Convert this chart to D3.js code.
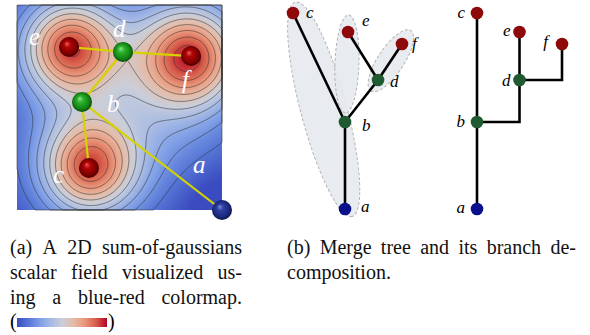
<!DOCTYPE html>
<html>
<head>
<meta charset="utf-8">
<script src="https://cdn.jsdelivr.net/npm/d3@7"></script>
<style>
  html, body { margin: 0; padding: 0; background: #fff; }
  svg { display: block; }
  text { font-family: "Liberation Serif", "Times New Roman", serif; }
</style>
</head>
<body>
<svg id="fig" width="590" height="335"></svg>
<script>
// critical points of the field
const nodeNames = ['a', 'b', 'c', 'd', 'e', 'f'];
const nodeKinds = ['min', 'saddle', 'max', 'saddle', 'max', 'max'];
// where they sit in the 2D domain (0..1)
const fieldU = [1.0, 0.317, 0.351, 0.517, 0.254, 0.849];
const fieldV = [1.0, 0.473, 0.795, 0.229, 0.205, 0.249];
// scalar value (tree height)
const nodeValue = [0, 0.444, 1.0, 0.658, 0.903, 0.842];
// horizontal slot in the merge tree / branch decomposition
const mergeCol = [1.0, 1.0, 0, 1.635, 1.058, 2.096];
const branchCol = [0, 0, 0, 1, 1, 2];
const arcs = [['b', 'a'], ['c', 'b'], ['d', 'b'], ['e', 'd'], ['f', 'd']];
const branches = [['c', 'a'], ['e', 'b'], ['f', 'd']];

// sum of gaussians
const gaussU = [0.254, 0.849, 0.351, 0.55, 1.0];
const gaussV = [0.205, 0.249, 0.795, 0.45, 1.0];
const gaussAmp = [0.6, 0.62, 0.6, 0.25, -0.1];
const gaussSigma = [0.16, 0.17, 0.16, 0.35, 0.15];
const fieldBase = 0.05;
const colourRange = [0.05, 0.85];
const contourLevels = d3.range(0.15, 0.9, 0.07);

const cmapStops = ['#3b4cc0', '#5676d6', '#7d9de6', '#a6bae4', '#c9ceda', '#e5bca8', '#e9977c', '#d75e4a', '#b40426'];

const captionA = ['(a) A 2D sum-of-gaussians', 'scalar field visualized us-', 'ing a blue-red colormap.'];
const captionB = ['(b) Merge tree and its branch de-', 'composition.'];

const svg = d3.select('#fig');
const defs = svg.append('defs');
const cmap = d3.piecewise(d3.interpolateRgb, cmapStops);
const norm = d3.scaleLinear().domain(colourRange).range([0, 1]).clamp(true);
const idx = Object.fromEntries(nodeNames.map((n, i) => [n, i]));

// ---------- panel (a): scalar field ----------
const sq = {x: 17, y: 5, size: 205};
const fx = d3.scaleLinear().domain([0, 1]).range([sq.x, sq.x + sq.size]);
const fy = d3.scaleLinear().domain([0, 1]).range([sq.y, sq.y + sq.size]);

function field(u, v) {
  let s = fieldBase;
  for (let k = 0; k < gaussU.length; k++) {
    const du = u - gaussU[k], dv = v - gaussV[k];
    s += gaussAmp[k] * Math.exp(-(du * du + dv * dv) / (2 * gaussSigma[k] * gaussSigma[k]));
  }
  return s;
}

const N = 205;
const values = new Float64Array(N * N);
for (let j = 0; j < N; j++)
  for (let i = 0; i < N; i++)
    values[j * N + i] = field((i + 0.5) / N, (j + 0.5) / N);

const canvas = document.createElement('canvas');
canvas.width = N; canvas.height = N;
const ctx = canvas.getContext('2d');
const img = ctx.createImageData(N, N);
for (let p = 0; p < N * N; p++) {
  const c = d3.rgb(cmap(norm(values[p])));
  img.data[p * 4] = c.r; img.data[p * 4 + 1] = c.g; img.data[p * 4 + 2] = c.b; img.data[p * 4 + 3] = 255;
}
ctx.putImageData(img, 0, 0);

const panelA = svg.append('g').attr('class', 'panel-a');
panelA.append('image')
  .attr('x', sq.x).attr('y', sq.y)
  .attr('width', sq.size).attr('height', sq.size)
  .attr('preserveAspectRatio', 'none')
  .attr('href', canvas.toDataURL());

const contours = d3.contours().size([N, N]).thresholds(contourLevels)(values);
panelA.append('g')
  .attr('transform', `translate(${sq.x},${sq.y})`)
  .selectAll('path')
  .data(contours)
  .enter()
  .append('path')
  .attr('d', d3.geoPath(d3.geoIdentity().scale(sq.size / N)))
  .attr('fill', 'none')
  .attr('stroke', '#2a2a2a')
  .attr('stroke-opacity', 0.65)
  .attr('stroke-width', 0.85);

// yellow arcs
panelA.selectAll('.arc-a')
  .data(arcs)
  .enter()
  .append('line')
  .attr('class', 'arc-a')
  .attr('x1', d => fx(fieldU[idx[d[0]]]))
  .attr('y1', d => fy(fieldV[idx[d[0]]]))
  .attr('x2', d => fx(fieldU[idx[d[1]]]))
  .attr('y2', d => fy(fieldV[idx[d[1]]]))
  .attr('stroke', '#d6d200')
  .attr('stroke-width', 2.2);

// shaded balls
const ballStops = {
  max:    ['#e85a5a', '#b00404', '#7e0000', '#360000'],
  saddle: ['#8ae88a', '#2eb02e', '#128412', '#053a05'],
  min:    ['#7d8bd8', '#2f3ea0', '#1a2a7c', '#080e3a']
};
Object.keys(ballStops).forEach(k => {
  const g = defs.append('radialGradient').attr('id', 'ball-' + k)
    .attr('cx', '50%').attr('cy', '50%').attr('r', '55%')
    .attr('fx', '38%').attr('fy', '32%');
  [0, 0.3, 0.72, 1].forEach((o, i) => g.append('stop').attr('offset', o).attr('stop-color', ballStops[k][i]));
});

panelA.selectAll('.ball')
  .data(nodeNames)
  .enter()
  .append('circle')
  .attr('class', 'ball')
  .attr('cx', (d, i) => fx(fieldU[i]))
  .attr('cy', (d, i) => fy(fieldV[i]))
  .attr('r', 10)
  .attr('fill', (d, i) => `url(#ball-${nodeKinds[i]})`);

const labelA = {a: [-29, -37], b: [25, 10], c: [-36, 15], d: [-10, -15], e: [-40, -2], f: [-9, 32]};
panelA.selectAll('.lab-a')
  .data(nodeNames)
  .enter()
  .append('text')
  .attr('class', 'lab-a')
  .attr('x', (d, i) => fx(fieldU[i]) + labelA[d][0])
  .attr('y', (d, i) => fy(fieldV[i]) + labelA[d][1])
  .attr('fill', '#fff')
  .attr('font-size', 25)
  .attr('font-style', 'italic')
  .text(d => d);

// ---------- panel (b) ----------
const ty = d3.scaleLinear().domain([0, 1]).range([209, 13]);
const mx = d3.scaleLinear().domain([0, 1]).range([293, 345]);
const bx = d3.scaleLinear().domain([0, 1]).range([477, 519.5]);
const nodeFill = {max: '#8e0a0a', saddle: '#1f5a30', min: '#0a0f8c'};

// branch regions around the merge tree
const branchShape = {c: [10, 9, 23, 5], e: [17, -9, 12, 0], f: [16, 13, 13, 0]};
const merge = svg.append('g').attr('class', 'merge-tree');
merge.selectAll('ellipse')
  .data(branches)
  .enter()
  .append('ellipse')
  .each(function (d) {
    const s = idx[d[0]], t = idx[d[1]];
    const x0 = mx(mergeCol[s]), y0 = ty(nodeValue[s]);
    const x1 = mx(mergeCol[t]), y1 = ty(nodeValue[t]);
    const len = Math.hypot(x1 - x0, y1 - y0);
    const ux = (x1 - x0) / len, uy = (y1 - y0) / len;
    const [pS, pE, hw, sh] = branchShape[d[0]];
    const along = (len + pE - pS) / 2;
    const cx = x0 + ux * along + uy * sh, cy = y0 + uy * along - ux * sh;
    d3.select(this)
      .attr('cx', 0).attr('cy', 0)
      .attr('rx', (len + pS + pE) / 2).attr('ry', hw)
      .attr('transform', `translate(${cx},${cy}) rotate(${Math.atan2(uy, ux) * 180 / Math.PI})`);
  })
  .attr('fill', '#e5e9ed')
  .attr('fill-opacity', 0.9)
  .attr('stroke', '#b4b4b4')
  .attr('stroke-width', 1)
  .attr('stroke-dasharray', '3,2');

merge.selectAll('line')
  .data(arcs)
  .enter()
  .append('line')
  .attr('x1', d => mx(mergeCol[idx[d[0]]]))
  .attr('y1', d => ty(nodeValue[idx[d[0]]]))
  .attr('x2', d => mx(mergeCol[idx[d[1]]]))
  .attr('y2', d => ty(nodeValue[idx[d[1]]]))
  .attr('stroke', '#000')
  .attr('stroke-width', 2.6);

merge.selectAll('circle')
  .data(nodeNames)
  .enter()
  .append('circle')
  .attr('cx', (d, i) => mx(mergeCol[i]))
  .attr('cy', (d, i) => ty(nodeValue[i]))
  .attr('r', 6.3)
  .attr('fill', (d, i) => nodeFill[nodeKinds[i]]);

const labelM = {a: [16, 3], b: [17, 9], c: [13, 5], d: [12, 7], e: [14, -6], f: [10, 5]};
merge.selectAll('text')
  .data(nodeNames)
  .enter()
  .append('text')
  .attr('x', (d, i) => mx(mergeCol[i]) + labelM[d][0])
  .attr('y', (d, i) => ty(nodeValue[i]) + labelM[d][1])
  .attr('font-size', 17)
  .attr('font-style', 'italic')
  .text(d => d);

// branch decomposition
const bd = svg.append('g').attr('class', 'branch-decomp');
bd.selectAll('path')
  .data(arcs)
  .enter()
  .append('path')
  .attr('d', d => {
    const s = idx[d[0]], t = idx[d[1]];
    return `M${bx(branchCol[s])},${ty(nodeValue[s])}V${ty(nodeValue[t])}H${bx(branchCol[t])}`;
  })
  .attr('fill', 'none')
  .attr('stroke', '#000')
  .attr('stroke-width', 2.6);

bd.selectAll('circle')
  .data(nodeNames)
  .enter()
  .append('circle')
  .attr('cx', (d, i) => bx(branchCol[i]))
  .attr('cy', (d, i) => ty(nodeValue[i]))
  .attr('r', 6.3)
  .attr('fill', (d, i) => nodeFill[nodeKinds[i]]);

const labelB = {a: [-12, 4], b: [-12, 5], c: [-12, 5], d: [-9, 6], e: [-9, 4], f: [-14, 3]};
bd.selectAll('text')
  .data(nodeNames)
  .enter()
  .append('text')
  .attr('x', (d, i) => bx(branchCol[i]) + labelB[d][0])
  .attr('y', (d, i) => ty(nodeValue[i]) + labelB[d][1])
  .attr('text-anchor', 'end')
  .attr('font-size', 17)
  .attr('font-style', 'italic')
  .text(d => d);

// ---------- captions ----------
const capFont = 20;
function setLine(str, x0, x1, y, justify) {
  const words = str.split(' ');
  const g = svg.append('g');
  const nodes = words.map(w => g.append('text').attr('y', y).attr('font-size', capFont).attr('fill', '#111').text(w));
  const widths = nodes.map(n => n.node().getComputedTextLength());
  const total = d3.sum(widths);
  const gap = justify && words.length > 1 ? (x1 - x0 - total) / (words.length - 1) : capFont * 0.25;
  let x = x0;
  nodes.forEach((n, k) => { n.attr('x', x); x += widths[k] + gap; });
}
captionA.forEach((l, k) => setLine(l, 10, 242, 254 + k * 25, true));
captionB.forEach((l, k) => setLine(l, 287, 576, 254 + k * 25, k < captionB.length - 1));

// colour bar
const grad = defs.append('linearGradient').attr('id', 'cbar');
cmapStops.forEach((c, k) => grad.append('stop').attr('offset', k / (cmapStops.length - 1)).attr('stop-color', c));
svg.append('text').attr('x', 10).attr('y', 328).attr('font-size', capFont).text('(');
svg.append('rect').attr('x', 17).attr('y', 318).attr('width', 90).attr('height', 9).attr('fill', 'url(#cbar)');
svg.append('text').attr('x', 108).attr('y', 328).attr('font-size', capFont).text(')');
</script>
</body>
</html>
